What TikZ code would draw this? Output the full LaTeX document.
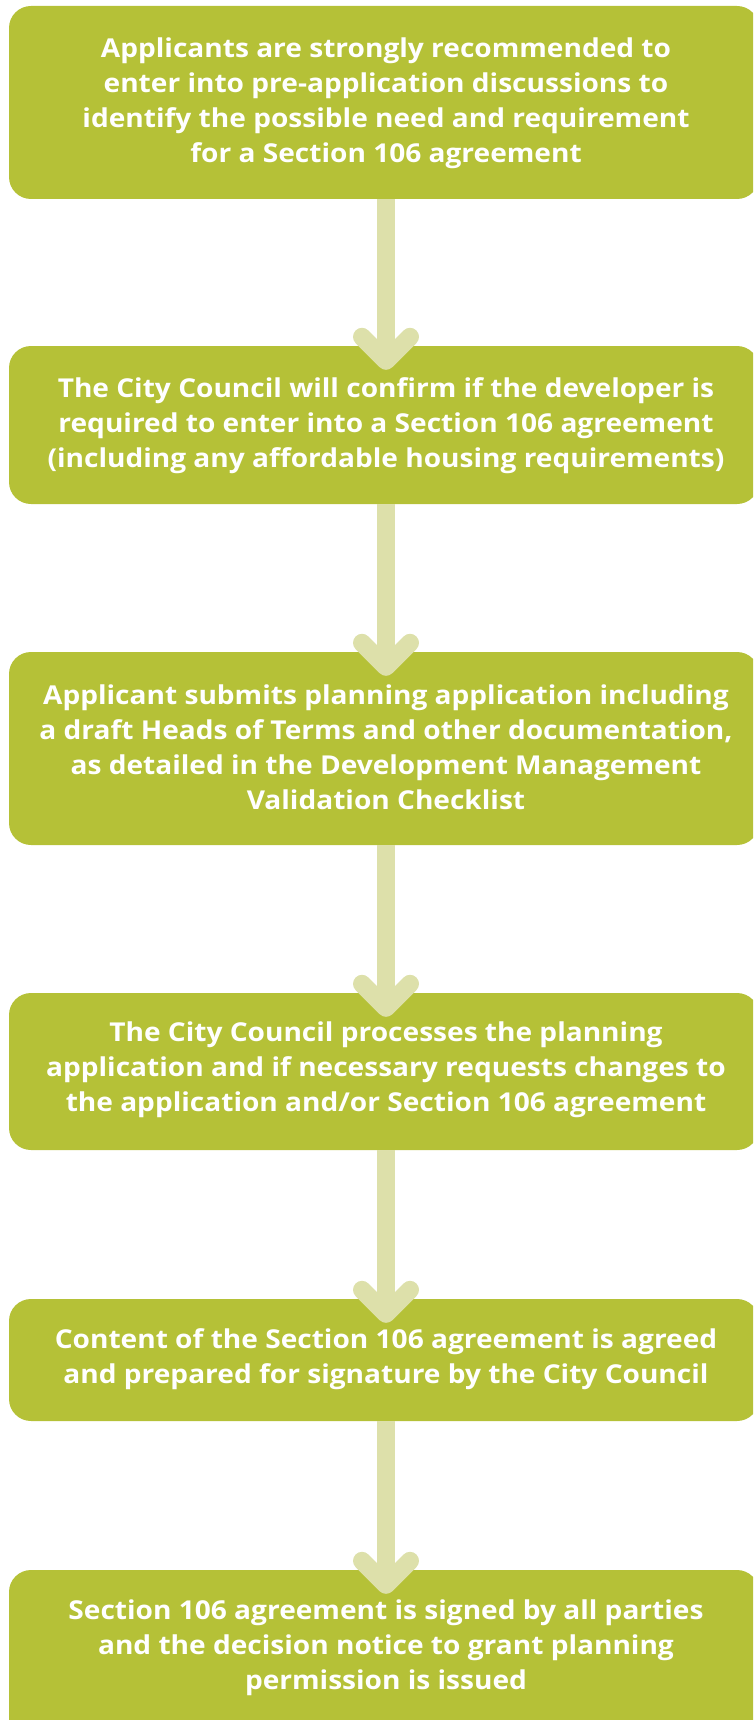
\documentclass[tikz,border=0pt]{standalone}
\usepackage{fontspec}
\setmainfont{Open Sans}[FakeStretch=1.08]
\usetikzlibrary{calc}
\definecolor{boxgreen}{HTML}{B5C137}
\definecolor{arrowgreen}{HTML}{DDE0AA}
\tikzset{
  stepbox/.style={fill=boxgreen, draw=none, rounded corners=22pt, inner sep=0pt, minimum width=750pt},
  steptext/.style={text=white, font=\fontsize{26}{35}\selectfont\bfseries, align=center, inner sep=0pt},
  shaft/.style={draw=arrowgreen, line width=18pt, line cap=butt},
  arrowhead/.style={draw=arrowgreen, line width=18pt, line cap=round, line join=round},
}
\begin{document}
\begin{tikzpicture}[x=1pt,y=-1pt]
\useasboundingbox (0,0) rectangle (753,1720);
\clip (0,0) rectangle (753,1720);
% boxes
\node[stepbox, minimum height=193pt] (b1) at (384,102.5) {};
\node[stepbox, minimum height=158pt] (b2) at (384,425) {};
\node[stepbox, minimum height=193pt] (b3) at (384,748.5) {};
\node[stepbox, minimum height=157pt] (b4) at (384,1071.5) {};
\node[stepbox, minimum height=122pt] (b5) at (384,1360) {};
\node[stepbox, minimum height=180pt] (b6) at (384,1660) {};
% texts
\node[steptext] (t1) at (386,103.5) {Applicants are strongly recommended to\\enter into pre-application discussions to\\identify the possible need and requirement\\for a Section 106 agreement};
\node[steptext] (t2) at (386,425.5) {The City Council will confirm if the developer is\\required to enter into a Section 106 agreement\\(including any affordable housing requirements)};
\node[steptext] (t3) at (386,747.5) {Applicant submits planning application including\\a draft Heads of Terms and other documentation,\\as detailed in the Development Management\\Validation Checklist};
\node[steptext] (t4) at (386,1070) {The City Council processes the planning\\application and if necessary requests changes to\\the application and/or Section 106 agreement};
\node[steptext] (t5) at (386,1358.8) {Content of the Section 106 agreement is agreed\\and prepared for signature by the City Council};
\node[steptext] (t6) at (386,1647.5) {Section 106 agreement is signed by all parties\\and the decision notice to grant planning\\permission is issued};
% arrows
\foreach \a/\b in {b1/b2,b2/b3,b3/b4,b4/b5,b5/b6}{
  \coordinate (tip) at ($(\b.north -| t1)+(0,15)$);
  \draw[shaft] (\a.south -| t1) -- (tip);
  \draw[arrowhead] ($(tip)+(-24,-24)$) -- (tip) -- ($(tip)+(24,-24)$);
}
\end{tikzpicture}
\end{document}
